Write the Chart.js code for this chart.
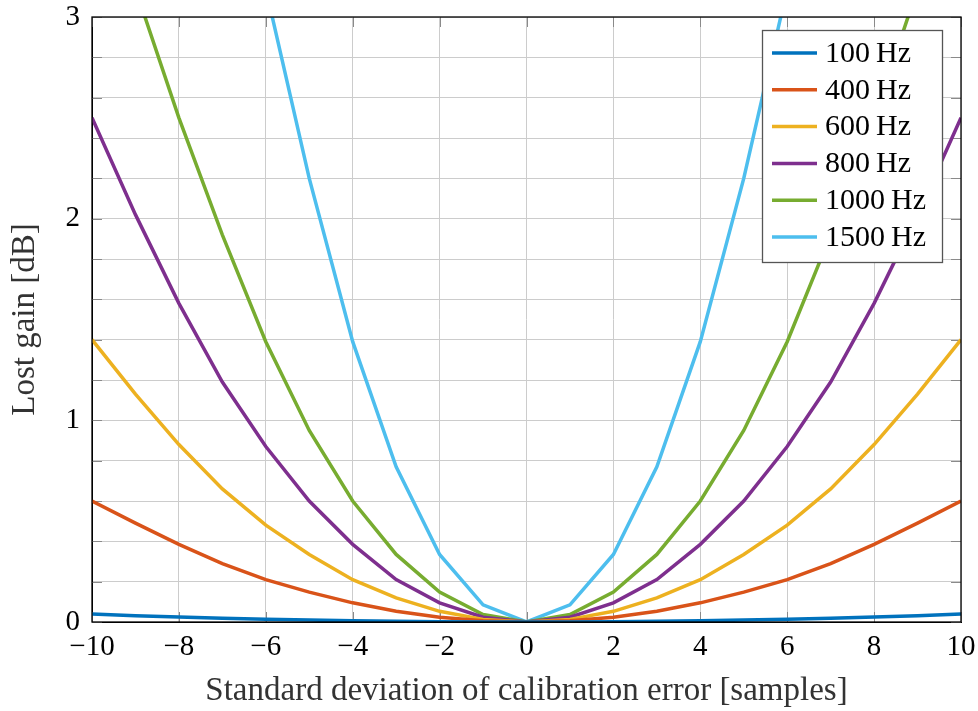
<!DOCTYPE html>
<html>
<head>
<meta charset="utf-8">
<script src="https://cdn.jsdelivr.net/npm/chart.js@4.4.1/dist/chart.umd.min.js"></script>
<style>
  html,body{margin:0;padding:0;background:#fff;}
  #wrap{width:978px;height:711px;}
</style>
</head>
<body>
<div id="wrap"><canvas id="c" width="978" height="711"></canvas></div>
<script>
const offsets = [-10,-9,-8,-7,-6,-5,-4,-3,-2,-1,0,1,2,3,4,5,6,7,8,9,10];
const seriesLabels = ['100\u2009Hz','400\u2009Hz','600\u2009Hz','800\u2009Hz','1000\u2009Hz','1500\u2009Hz'];
const seriesColors = ['#0072BD','#D95319','#EDB120','#7E2F8E','#77AC30','#4DBEEE'];
// values for offsets -10 .. 10
const gain100  = [0.04,0.031,0.025,0.019,0.014,0.0095,0.006,0.0035,0.0015,0.0004,0,0.0004,0.0015,0.0035,0.006,0.0095,0.014,0.019,0.025,0.031,0.04];
const gain400  = [0.6,0.49,0.385,0.29,0.21,0.148,0.095,0.053,0.024,0.006,0,0.006,0.024,0.053,0.095,0.148,0.21,0.29,0.385,0.49,0.6];
const gain600  = [1.4,1.13,0.88,0.66,0.48,0.335,0.21,0.12,0.053,0.013,0,0.013,0.053,0.12,0.21,0.335,0.48,0.66,0.88,1.13,1.4];
const gain800  = [2.5,2.02,1.58,1.19,0.87,0.6,0.385,0.21,0.095,0.024,0,0.024,0.095,0.21,0.385,0.6,0.87,1.19,1.58,2.02,2.5];
const gain1000 = [3.9,3.14,2.5,1.92,1.39,0.95,0.6,0.335,0.148,0.037,0,0.037,0.148,0.335,0.6,0.95,1.39,1.92,2.5,3.14,3.9];
const gain1500 = [8.8,7.1,5.6,4.3,3.14,2.2,1.39,0.77,0.335,0.085,0,0.085,0.335,0.77,1.39,2.2,3.14,4.3,5.6,7.1,8.8];
const allSeries = [gain100,gain400,gain600,gain800,gain1000,gain1500];
const xTitle = 'Standard deviation of calibration error [samples]';
const yTitle = 'Lost gain [dB]';

const FONT = "'Liberation Serif', 'DejaVu Serif', serif";

const datasets = allSeries.map((vals,i)=>({
  label: seriesLabels[i],
  data: offsets.map((x,j)=>({x:x,y:vals[j]})),
  borderColor: seriesColors[i],
  backgroundColor: seriesColors[i],
  borderWidth: 3.5,
  pointRadius: 0,
  tension: 0,
  clip: 0,
  fill: false
}));

function noPad(s){ s.paddingTop=0; s.paddingBottom=0; s.paddingLeft=0; s.paddingRight=0; }

const frame = {
  id:'frame',
  beforeDatasetsDraw(chart){
    const {ctx, chartArea:a, scales:{x,y}} = chart;
    ctx.save();
    ctx.strokeStyle = '#8a8a8a';
    ctx.lineWidth = 1;
    ctx.beginPath();
    for (let v=0; v<=3.0001; v+=0.2){
      const py = Math.round(y.getPixelForValue(v))+0.5;
      ctx.moveTo(a.left, py); ctx.lineTo(a.left+10, py);
      ctx.moveTo(a.right, py); ctx.lineTo(a.right-10, py);
    }
    for (let v=-10; v<=10; v+=2){
      const px = Math.round(x.getPixelForValue(v))+0.5;
      ctx.moveTo(px, a.bottom); ctx.lineTo(px, a.bottom-10);
      ctx.moveTo(px, a.top); ctx.lineTo(px, a.top+10);
    }
    ctx.stroke();
    ctx.restore();
  },
  afterDatasetsDraw(chart){
    const {ctx, chartArea:a} = chart;
    ctx.save();
    ctx.strokeStyle = '#000';
    ctx.lineWidth = 1.3;
    ctx.strokeRect(a.left, a.top, a.right-a.left, a.bottom-a.top);
    // legend
    const bx = 762, by = 30, bw = 180, bh = 232;
    ctx.fillStyle = '#fff';
    ctx.fillRect(bx, by, bw, bh);
    ctx.strokeStyle = '#555';
    ctx.lineWidth = 1.3;
    ctx.strokeRect(bx+0.5, by+0.5, bw, bh);
    ctx.font = "30px " + FONT;
    ctx.textBaseline = 'middle';
    ctx.textAlign = 'left';
    chart.data.datasets.forEach((ds,i)=>{
      const cy = 53 + i*36.8;
      ctx.strokeStyle = ds.borderColor;
      ctx.lineWidth = 3.5;
      ctx.beginPath();
      ctx.moveTo(772, cy); ctx.lineTo(817, cy);
      ctx.stroke();
      ctx.fillStyle = '#000';
      ctx.fillText(ds.label, 825, cy+1);
    });
    ctx.restore();
  }
};

new Chart(document.getElementById('c'), {
  type:'line',
  data:{datasets},
  plugins:[frame],
  options:{
    responsive:false,
    animation:false,
    layout:{padding:{left:0,top:17,right:17,bottom:0}},
    plugins:{legend:{display:false}, tooltip:{enabled:false}},
    scales:{
      x:{
        type:'linear', min:-10, max:10,
        afterFit(s){ s.height = 89; noPad(s); },
        ticks:{stepSize:2, color:'#000', padding:8, maxRotation:0, autoSkip:false,
          font:{family:FONT, size:29},
          callback:(v)=> v<0 ? '\u2212'+Math.abs(v) : String(v)},
        grid:{color:'#cccccc', lineWidth:1, drawTicks:false},
        border:{display:true, color:'#000', width:1},
        title:{display:true, text:xTitle, color:'#333', font:{family:FONT, size:33}, padding:{top:6,bottom:0}}
      },
      y:{
        min:0, max:3,
        afterFit(s){ s.width = 92; noPad(s); },
        ticks:{stepSize:0.2, color:'#000', padding:12, autoSkip:false,
          font:{family:FONT, size:29},
          callback:(v)=> Math.abs(v-Math.round(v))<1e-6 ? String(Math.round(v)) : ''},
        grid:{color:'#cccccc', lineWidth:1, drawTicks:false},
        border:{display:true, color:'#000', width:1},
        title:{display:true, text:yTitle, color:'#333', font:{family:FONT, size:33}, padding:{top:6,bottom:0}}
      }
    }
  }
});
</script>
</body>
</html>
